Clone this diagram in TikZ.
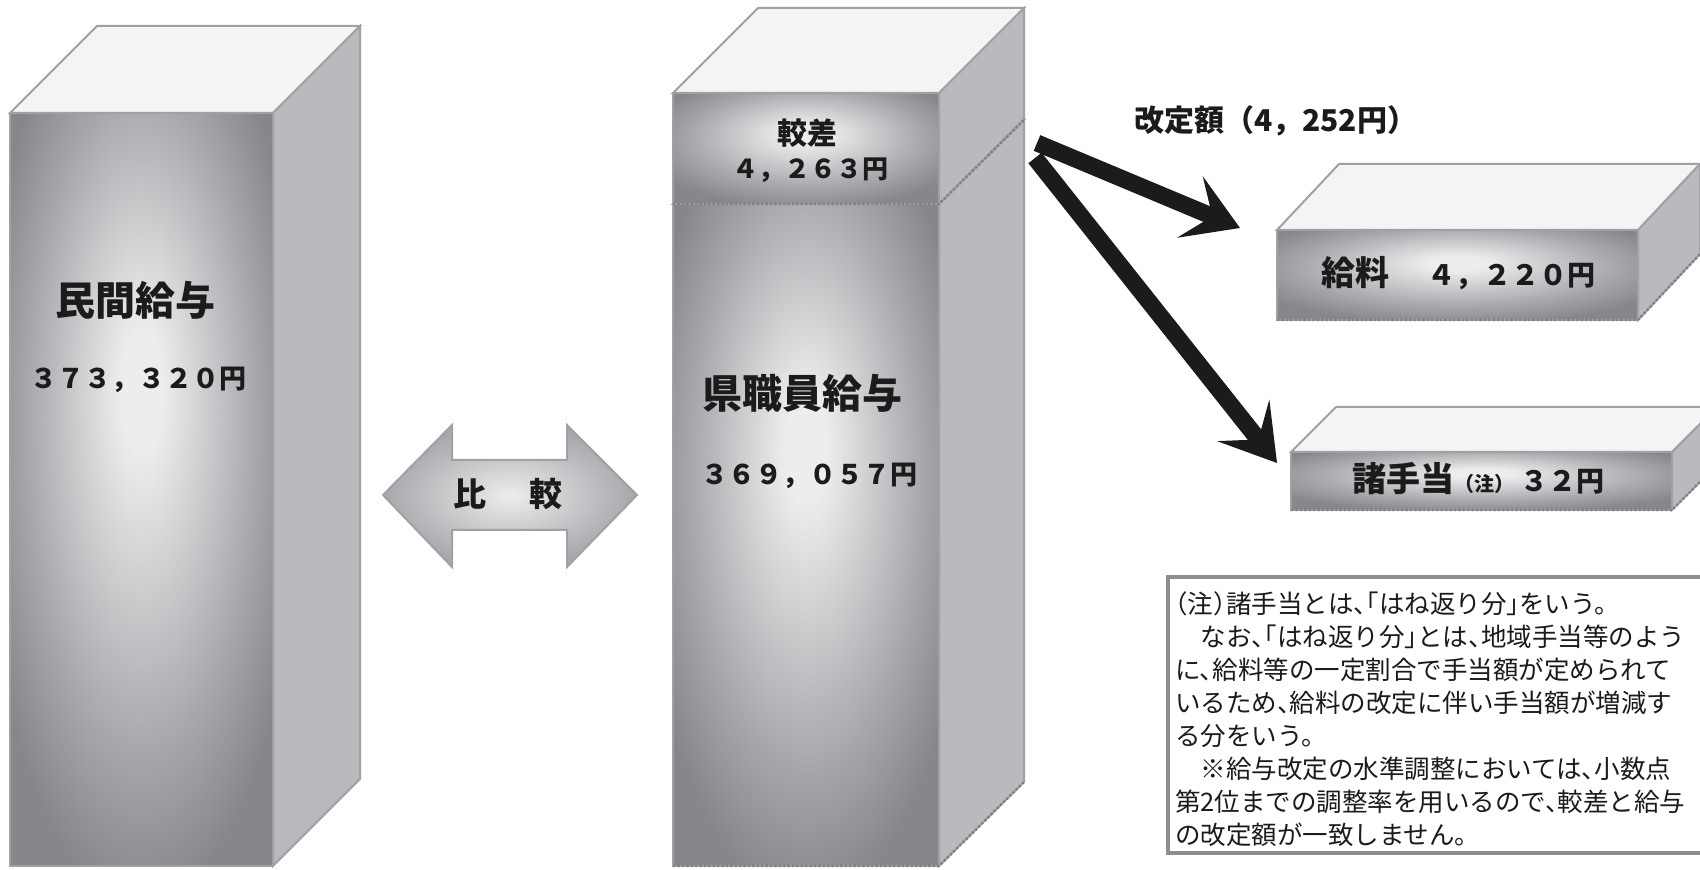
\documentclass[tikz,border=0pt]{standalone}
\usepackage{fontspec}
\newfontfamily\jp{Noto Sans CJK JP}[BoldFont={Noto Sans CJK JP Black}]
\newfontfamily\jpnote{Noto Sans CJK JP}[RawFeature=+halt]
\usetikzlibrary{arrows.meta}
\definecolor{topface}{HTML}{F4F4F4}
\definecolor{sideface}{HTML}{B9BABD}
\definecolor{edgegray}{HTML}{A0A1A4}
\definecolor{notegray}{HTML}{8E8E90}
\definecolor{glowhi}{HTML}{EDEDEE}
\definecolor{glowmid}{HTML}{A6A7AB}
\definecolor{glowlo}{HTML}{86878B}
\definecolor{inkblack}{HTML}{1C1B1B}
\pgfdeclareradialshading{frontglow}{\pgfpoint{0bp}{7bp}}{%
color(0bp)=(glowhi); color(4bp)=(glowhi); color(22bp)=(glowmid);
color(31bp)=(glowlo); color(60bp)=(glowlo)}
\tikzset{
every picture/.style={line width=1pt},
face top/.style={fill=topface, draw=edgegray},
face side/.style={fill=sideface, draw=edgegray},
rough/.style={draw=edgegray!80!black, densely dotted, line width=1.2pt}
}
% box: x0, y0 (front top), x1, y1 (front bottom), depth dx, dy
\newcommand{\cuboid}[6]{%
\filldraw[face top] (#1,#2) -- (#3,#2) -- (#3+#5,#2-#6) -- (#1+#5,#2-#6) -- cycle;
\filldraw[face side] (#3,#2) -- (#3+#5,#2-#6) -- (#3+#5,#4-#6) -- (#3,#4) -- cycle;
\shade[shading=frontglow] (#1,#2) rectangle (#3,#4);
\draw[edgegray] (#1,#2) rectangle (#3,#4);
}

\begin{document}
\begin{tikzpicture}[x=0.5pt, y=-0.5pt,
label/.style = {font=\jp\bfseries, text=inkblack, inner sep=0pt},
fat/.style = {line width=8.5pt, draw=inkblack, -{Stealth[length=27pt,width=33pt,inset=12pt]}}]
\useasboundingbox (0,0) rectangle (1700,870);
\clip (0,0) rectangle (1700,870);

\cuboid{10}{113}{273}{866}{87}{87}
\cuboid{673}{204}{939}{866}{85}{84}
\cuboid{673}{93}{939}{204}{85}{85}
\cuboid{1277}{230}{1638}{320}{62}{66}
\cuboid{1291}{452}{1672}{510}{45}{45}
\draw[rough] (673,866) -- (939,866) -- (1024,782);
\draw[rough] (673,204) -- (939,204) -- (1024,120);
\draw[rough] (1277,320) -- (1638,320) -- (1700,254);
\draw[rough] (1291,510) -- (1672,510) -- (1717,465);

% double arrow
\shadedraw[draw=edgegray, inner color=glowhi, outer color=glowmid]
(383,495) -- (452,425) -- (452,460) -- (567,460) -- (567,425) -- (637,495)
-- (567,567) -- (567,530) -- (452,530) -- (452,567) -- cycle;
\node[label, font=\jp\bfseries\fontsize{16.5pt}{20pt}\selectfont] (hk) at (508,494) {比\hspace{22pt}較};

\node[label, font=\jp\bfseries\fontsize{20pt}{24pt}\selectfont] (min) at (135,300) {民間給与};
\node[label, font=\jp\bfseries\fontsize{13.5pt}{16pt}\selectfont] (minv) at (138,380) {３７３，３２０円};
\node[label, font=\jp\bfseries\fontsize{20pt}{24pt}\selectfont] (ken) at (802,393) {県職員給与};
\node[label, font=\jp\bfseries\fontsize{13.5pt}{16pt}\selectfont] (kenv) at (809,476) {３６９，０５７円};
\node[label, font=\jp\bfseries\fontsize{15pt}{18pt}\selectfont] (kak) at (807,133) {較差};
\node[label, font=\jp\bfseries\fontsize{13pt}{16pt}\selectfont] (kakv) at (810,170) {４，２６３円};

\node[label, font=\jp\bfseries\fontsize{15pt}{18pt}\selectfont, anchor=west] (kai) at (1133,121) {改定額（4，252円）};
\node[label] (kyu) at (1458,273)
{{\fontsize{17pt}{20pt}\selectfont 給料}\hspace{19pt}{\fontsize{14pt}{17pt}\selectfont ４，２２０円}};
\node[label] (sho) at (1478,479)
{{\fontsize{17pt}{20pt}\selectfont 諸手当}{\fontsize{10pt}{12pt}\selectfont （注）}\hspace{3pt}{\fontsize{14pt}{17pt}\selectfont ３２円}};

\coordinate (kk1) at (1037,143);
\coordinate (kk2) at (1035,158);
\coordinate (kyuin) at (1240,228);
\coordinate (shoin) at (1277,463);
\draw[fat] (kk1) -- (kyuin);
\draw[fat] (kk2) -- (shoin);

% note
\filldraw[draw=notegray, fill=white, line width=1.8pt] (1168,577) rectangle (1730,853);
\node[anchor=north west, align=left, inner sep=0pt, text=inkblack,
font=\jpnote\fontsize{12.75pt}{16.5pt}\selectfont] (note) at (1174,591)
{（注）諸手当とは、「はね返り分」をいう。\\
\hspace{1em}なお、「はね返り分」とは、地域手当等のよう\\
に、給料等の一定割合で手当額が定められて\\
いるため、給料の改定に伴い手当額が増減す\\
る分をいう。\\
\hspace{1em}※給与改定の水準調整においては、小数点\\
第2位までの調整率を用いるので、較差と給与\\
の改定額が一致しません。};
\end{tikzpicture}
\end{document}
